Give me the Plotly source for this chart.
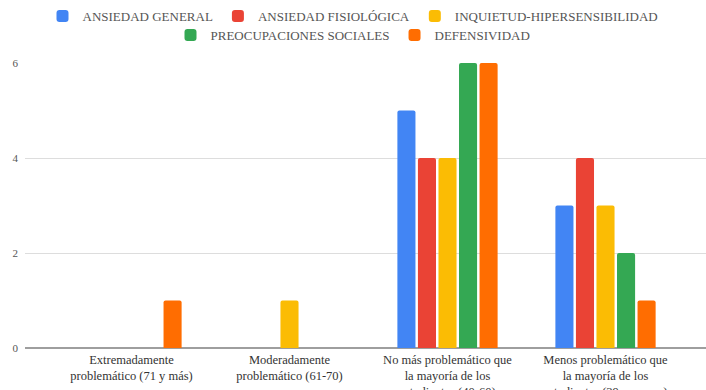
import plotly.graph_objects as go

categories = [
    "Extremadamente<br>problemático (71 y más)",
    "Moderadamente<br>problemático (61-70)",
    "No más problemático que<br>la mayoría de los<br>estudiantes (40-60)",
    "Menos problemático que<br>la mayoría de los<br>estudiantes (39 y menor)",
]

series_names = [
    "ANSIEDAD GENERAL",
    "ANSIEDAD FISIOLÓGICA",
    "INQUIETUD-HIPERSENSIBILIDAD",
    "PREOCUPACIONES SOCIALES",
    "DEFENSIVIDAD",
]

ansiedad_general = [0, 0, 5, 3]
ansiedad_fisiologica = [0, 0, 4, 4]
inquietud_hipersensibilidad = [0, 1, 4, 3]
preocupaciones_sociales = [0, 0, 6, 2]
defensividad = [1, 0, 6, 1]

series_values = [
    ansiedad_general,
    ansiedad_fisiologica,
    inquietud_hipersensibilidad,
    preocupaciones_sociales,
    defensividad,
]

colors = ["#4285F4", "#EA4335", "#FBBC04", "#34A853", "#FF6D01"]
legend_groups = ["legend", "legend", "legend", "legend2", "legend2"]

y_ticks = [0, 2, 4, 6]

SERIF = "Liberation Serif, Times New Roman, serif"

fig = go.Figure()
for name, vals, color, lg in zip(series_names, series_values, colors, legend_groups):
    fig.add_trace(go.Bar(
        x=list(range(len(categories))),
        y=vals,
        name=name,
        marker=dict(color=color, line=dict(width=0)),
        legend=lg,
        hoverinfo="skip",
    ))

legend_font = dict(family=SERIF, size=13, color="#555555")
legend_common = dict(
    orientation="h",
    xref="container", yref="container",
    x=0.5, xanchor="center",
    yanchor="middle",
    bgcolor="rgba(0,0,0,0)",
    font=legend_font,
    itemclick=False, itemdoubleclick=False,
    traceorder="normal",
)

fig.update_layout(
    width=706,
    height=390,
    margin=dict(l=25, r=0, t=63, b=42),
    paper_bgcolor="white",
    plot_bgcolor="white",
    barmode="group",
    bargap=0.35,
    bargroupgap=0.12,
    barcornerradius=2,
    showlegend=True,
    legend=dict(y=1 - 16 / 390, **legend_common),
    legend2=dict(y=1 - 35 / 390, **legend_common),
    xaxis=dict(
        range=[-0.674, 3.636],
        tickmode="array",
        tickvals=list(range(len(categories))),
        ticktext=categories,
        showgrid=False,
        zeroline=False,
        showline=False,
        automargin=False,
        tickfont=dict(family=SERIF, size=12.5, color="#333333"),
        ticklabelstandoff=2,
        fixedrange=True,
    ),
    yaxis=dict(
        range=[0, 6],
        tickvals=y_ticks,
        showgrid=True,
        gridcolor="#dddddd",
        gridwidth=1,
        zeroline=True,
        zerolinecolor="#9e9e9e",
        zerolinewidth=2,
        automargin=False,
        tickfont=dict(family=SERIF, size=11, color="#555555"),
        ticklabelstandoff=6,
        fixedrange=True,
    ),
)

fig.write_html("out.html")
